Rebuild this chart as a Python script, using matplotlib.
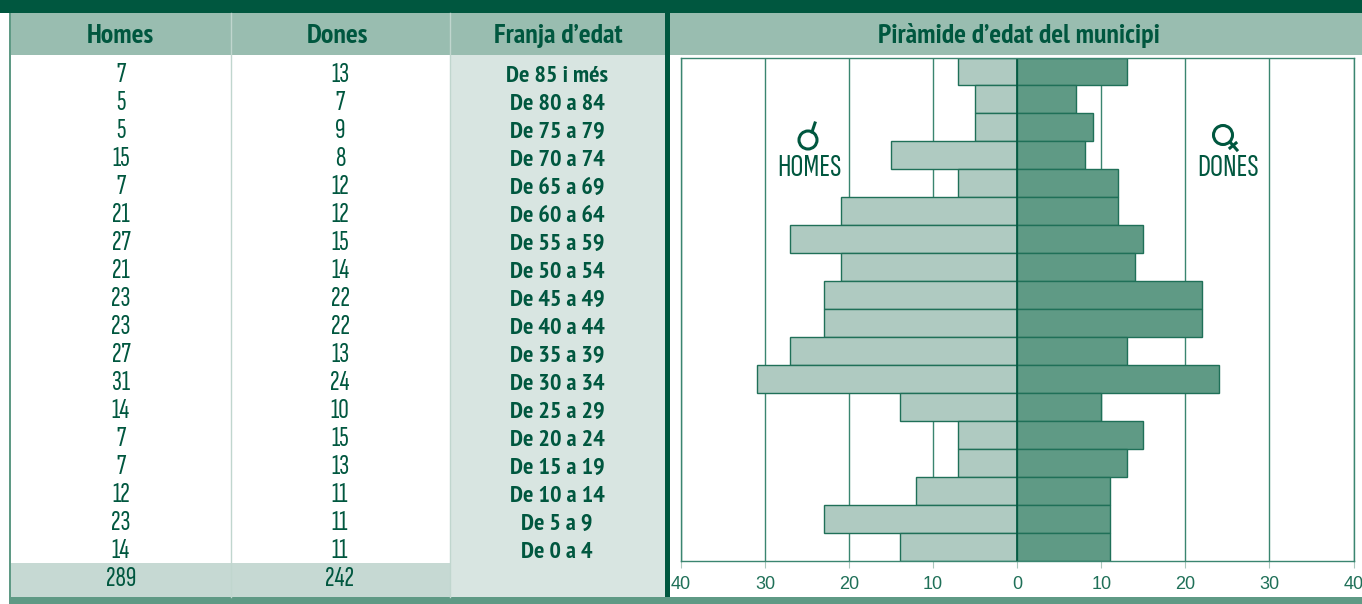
import numpy as np
import matplotlib
matplotlib.use('Agg')
import matplotlib.pyplot as plt
from matplotlib.patches import Rectangle, Circle

# Data
franges = ['De 85 i més', 'De 80 a 84', 'De 75 a 79', 'De 70 a 74', 'De 65 a 69', 'De 60 a 64',
           'De 55 a 59', 'De 50 a 54', 'De 45 a 49', 'De 40 a 44', 'De 35 a 39', 'De 30 a 34',
           'De 25 a 29', 'De 20 a 24', 'De 15 a 19', 'De 10 a 14', 'De 5 a 9', 'De 0 a 4']
homes = [7, 5, 5, 15, 7, 21, 27, 21, 23, 23, 27, 31, 14, 7, 7, 12, 23, 14]
dones = [13, 7, 9, 8, 12, 12, 15, 14, 22, 22, 13, 24, 10, 15, 13, 11, 11, 11]
total_homes = 289
total_dones = 242
cap_taula = ['Homes', 'Dones', "Franja d’edat"]
titol_piramide = 'Piràmide d’edat del municipi'
ticks = [-40, -30, -20, -10, 0, 10, 20, 30, 40]

# Colours
FOSC = '#00573f'
MITJA = '#5f9a85'
CAP = '#99bdb0'
CLAR = '#afcac1'
FRANJA = '#d8e5e1'
TOTAL = '#c6d9d3'
LINIA = '#3a8570'

W, H = 1362, 604
NARROW = ['Sofia Sans Extra Condensed', 'Liberation Sans', 'DejaVu Sans']
NARROW_B = ['PT Sans Narrow', 'Liberation Sans', 'DejaVu Sans']
plt.rcParams['font.family'] = NARROW

fig = plt.figure(figsize=(W/100, H/100), dpi=100, facecolor='white')

# overlay in pixel coords for the table part
bg = fig.add_axes([0, 0, 1, 1])
bg.set_xlim(0, W)
bg.set_ylim(H, 0)
bg.axis('off')

def rect(x0, y0, x1, y1, color):
    bg.add_patch(Rectangle((x0, y0), x1-x0, y1-y0, fc=color, ec='none', zorder=1))

rect(450, 55, 665, 597, FRANJA)
rect(10, 563, 450, 597, TOTAL)
rect(10, 13, W, 55, CAP)
rect(9, 13, 11, 604, MITJA)
rect(0, 0, W, 13, FOSC)
rect(9, 597, W, 604, MITJA)
rect(665, 13, 670, 597, FOSC)
for x in [231, 450]:
    bg.plot([x, x], [13, 597], color='#c0d6ce', lw=1, zorder=2)

# baselines instead of centres, so all rows sit at the same height
for x, t in zip([120, 337, 558], cap_taula):
    bg.text(x, 43, t, ha='center', va='baseline', fontsize=20, fontweight='bold',
            family=NARROW_B, color=FOSC, zorder=3)
bg.text(1019, 43, titol_piramide, ha='center', va='baseline', fontsize=20, fontweight='bold',
        family=NARROW_B, color=FOSC, zorder=3)

for i in range(len(franges)):
    y = 82 + 28*i
    bg.text(121, y, str(homes[i]), ha='center', va='baseline', fontsize=21, color=FOSC, zorder=3)
    bg.text(340, y, str(dones[i]), ha='center', va='baseline', fontsize=21, color=FOSC, zorder=3)
    bg.text(557, y, franges[i], ha='center', va='baseline', fontsize=17.5, fontweight='bold',
            family=NARROW_B, color=FOSC, zorder=3)
bg.text(121, 586, str(total_homes), ha='center', va='baseline', fontsize=21, color=FOSC, zorder=3)
bg.text(340, 586, str(total_dones), ha='center', va='baseline', fontsize=21, color=FOSC, zorder=3)

# pyramid
ax = fig.add_axes([681/W, 1-560.5/H, (1353.5-681)/W, (560.5-57.5)/H])
ypos = np.arange(len(franges))
ax.set_xlim(-40, 40)
ax.set_ylim(len(franges)-0.5, -0.5)
ax.set_axisbelow(True)
ax.grid(axis='x', color=LINIA, lw=1)
ax.barh(ypos, -np.array(homes), height=1, color=CLAR, edgecolor='#1f7058', lw=1)
ax.barh(ypos, dones, height=1, color=MITJA, edgecolor='#1f7058', lw=1)
ax.axvline(0, color=FOSC, lw=1.2)
ax.set_xticks(ticks)
ax.set_xticklabels([str(abs(t)) for t in ticks], fontsize=13, color='#1f7058',
                   family=['Liberation Sans', 'DejaVu Sans'])
ax.set_yticks([])
ax.tick_params(axis='x', length=5, width=0.8, color='#a9c7bc', pad=6)
for s in ax.spines.values():
    s.set_color(LINIA)
    s.set_linewidth(1)

# labels and gender signs, in pixels on a top layer
top = fig.add_axes([0, 0, 1, 1])
top.set_xlim(0, W)
top.set_ylim(H, 0)
top.axis('off')
top.patch.set_alpha(0)
top.text(809, 176, 'HOMES', ha='center', va='baseline', fontsize=23.5, color=FOSC)
top.text(1228, 176, 'DONES', ha='center', va='baseline', fontsize=23.5, color=FOSC)
top.add_patch(Circle((808, 140), 9, fc='none', ec=FOSC, lw=2.2))
top.plot([812, 815], [132, 123], color=FOSC, lw=2.2)
top.add_patch(Circle((1223, 135), 9.5, fc='none', ec=FOSC, lw=2.2))
top.plot([1230, 1237], [142, 150], color=FOSC, lw=2.2)
top.plot([1230, 1236], [148, 143], color=FOSC, lw=2.2)

fig.savefig('out.png', dpi=100)
